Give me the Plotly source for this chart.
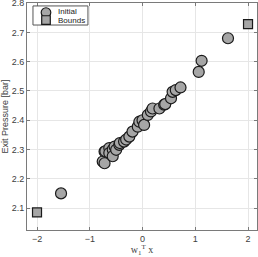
import plotly.graph_objects as go

# Initial samples (projection w1^T x, exit pressure in bar)
init_x = [-1.545, -0.755, -0.72, -0.72, -0.705, -0.63, -0.63, -0.565, -0.565, -0.53,
          -0.5, -0.44, -0.43, -0.35, -0.31, -0.25, -0.19, -0.09, -0.06, 0.0,
          0.03, 0.10, 0.16, 0.19, 0.32, 0.41, 0.43, 0.54, 0.57, 0.63,
          0.72, 1.065, 1.12, 1.62]
init_y = [2.150, 2.259, 2.253, 2.293, 2.294, 2.305, 2.288, 2.300, 2.277, 2.310,
          2.299, 2.316, 2.322, 2.327, 2.334, 2.344, 2.361, 2.378, 2.395, 2.400,
          2.384, 2.418, 2.430, 2.440, 2.440, 2.453, 2.455, 2.475, 2.497, 2.503,
          2.512, 2.565, 2.603, 2.680]

# Bounds
bnd_x = [-2.0, 2.0]
bnd_y = [2.085, 2.728]

x_ticks = [-2, -1, 0, 1, 2]
y_ticks = [2.1, 2.2, 2.3, 2.4, 2.5, 2.6, 2.7, 2.8]
legend_names = ["Initial", "Bounds"]

FILL = "#a6a6a6"
EDGE = "#1a1a1a"

fig = go.Figure()
fig.add_trace(go.Scatter(
    x=init_x, y=init_y, mode="markers", name=legend_names[0], showlegend=False,
    marker=dict(symbol="circle", size=11, color=FILL, line=dict(color=EDGE, width=1.2)),
))
fig.add_trace(go.Scatter(
    x=bnd_x, y=bnd_y, mode="markers", name=legend_names[1], showlegend=False,
    marker=dict(symbol="square", size=9, color=FILL, line=dict(color=EDGE, width=1.2)),
))

axis_common = dict(
    showgrid=True, gridcolor="#e6e6e6", gridwidth=1,
    showline=True, linecolor="#7a7a7a", linewidth=1, mirror="ticks",
    ticks="inside", ticklen=3, tickcolor="#7a7a7a", automargin=False,
    ticklabeloverflow="allow",
    zeroline=False, tickfont=dict(family="Liberation Sans, Arial", size=9, color="#404040"),
)

# compact legend box (MATLAB style), drawn in paper coordinates
shapes = [
    dict(type="rect", xref="paper", yref="paper", x0=0.026, x1=0.265, y0=0.903, y1=0.987,
         fillcolor="white", line=dict(color="#555555", width=1), layer="above"),
    dict(type="circle", xref="paper", yref="paper", xsizemode="pixel", ysizemode="pixel",
         xanchor=0.0826, yanchor=0.958, x0=-4.8, x1=4.8, y0=-4.8, y1=4.8,
         fillcolor=FILL, line=dict(color=EDGE, width=1.2), layer="above"),
    dict(type="rect", xref="paper", yref="paper", xsizemode="pixel", ysizemode="pixel",
         xanchor=0.0826, yanchor=0.925, x0=-4.3, x1=4.3, y0=-4.3, y1=4.3,
         fillcolor=FILL, line=dict(color=EDGE, width=1.2), layer="above"),
]
annotations = [
    dict(text=legend_names[0], xref="paper", yref="paper", x=0.128, y=0.962,
         xanchor="left", yanchor="middle", showarrow=False,
         font=dict(family="Liberation Sans, Arial", size=8, color="#222222")),
    dict(text=legend_names[1], xref="paper", yref="paper", x=0.128, y=0.924,
         xanchor="left", yanchor="middle", showarrow=False,
         font=dict(family="Liberation Sans, Arial", size=8, color="#222222")),
]

fig.update_layout(
    width=258, height=257,
    margin=dict(l=27, r=1, t=3, b=27),
    paper_bgcolor="white", plot_bgcolor="white",
    showlegend=False,
    shapes=shapes, annotations=annotations,
    xaxis=dict(range=[-2.19, 2.17], tickvals=x_ticks,
               title=dict(text="w<sub>1</sub><sup>T</sup> x",
                          font=dict(family="Liberation Serif, Times New Roman", size=10, color="#404040")),
               **axis_common),
    yaxis=dict(range=[2.025, 2.8005], tickvals=y_ticks, tickformat=".1f",
               title=dict(text="Exit Pressure [bar]",
                          font=dict(family="Liberation Sans, Arial", size=9, color="#404040")),
               **axis_common),
)

fig.write_html("out.html", config={"displayModeBar": False},
               post_script="document.body.style.margin='0';document.body.style.overflow='hidden';")
